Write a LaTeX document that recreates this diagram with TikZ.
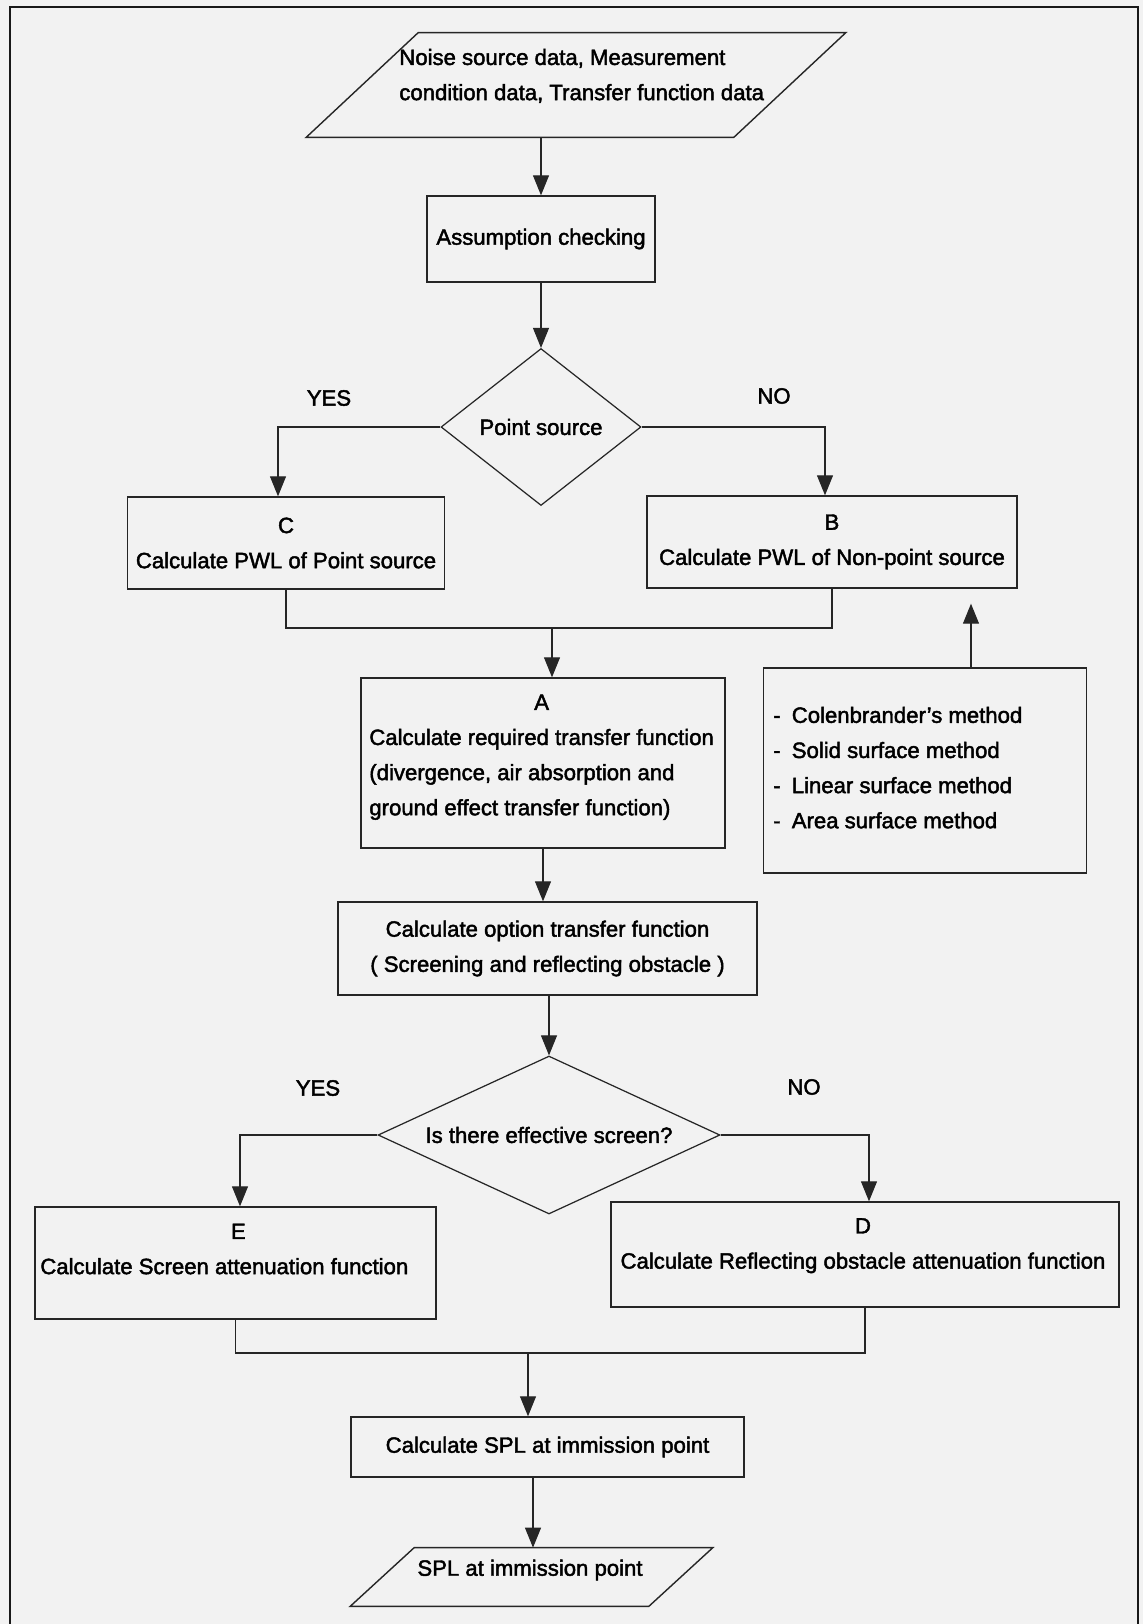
\documentclass[tikz,border=0pt]{standalone}
\usepackage{fontspec}
\setmainfont[FakeBold=2]{Liberation Sans}
\usetikzlibrary{arrows.meta,shapes.geometric,calc}

\begin{document}
\begin{tikzpicture}[x=0.02cm,y=-0.02cm,
  every node/.style={font=\fontsize{12.6}{20}\selectfont, inner sep=0pt},
  box/.style={draw=black!85, line width=0.8pt, rectangle},
  choice/.style={draw=black!85, line width=0.7pt, diamond},
  conn/.style={draw=black!85, line width=0.6pt},
  flow/.style={conn, -{Triangle[length=0.4cm,width=0.32cm]}},
]
% page and frame
\fill[black!5] (0,0) rectangle (1143,1624);
\useasboundingbox (0,0) rectangle (1143,1624);
\draw[black!90, line width=1.5pt] (10,1624) -- (10,7) -- (1138,7) -- (1138,1624);

% input data
\node[minimum width=8.54cm, minimum height=2.08cm] (in) at (576,85) {};
\draw[conn, line width=0.8pt] ([xshift=1.12cm]in.north west) -- ([xshift=1.12cm]in.north east)
  -- ([xshift=-1.12cm]in.south east) -- ([xshift=-1.12cm]in.south west) -- cycle;
\node[anchor=west] (intext) at (399,75.5) {\begin{tabular}{@{}l@{}}Noise source data, Measurement\\condition data, Transfer function data\end{tabular}};

% checks and first decision
\node[box, minimum width=4.56cm, minimum height=1.72cm] (chk) at (541,239) {Assumption checking};
\node[choice, aspect=1.27, minimum width=4cm, minimum height=3.14cm] (ps) at (541,427) {Point source};
\node (y1) at (329,398) {YES};
\node (n1) at (774,396) {NO};

\node[box, minimum width=6.34cm, minimum height=1.84cm, align=center] (C) at (286,543) {C\\Calculate PWL of Point source};
\node[box, minimum width=7.4cm, minimum height=1.84cm, align=center] (B) at (832,542) {B\\Calculate PWL of Non-point source};

% transfer functions
\node[box, minimum width=7.28cm, minimum height=3.4cm] (A) at (543,763) {};
\node[anchor=west] (Atext) at (369,755.5) {\begin{tabular}{@{}l@{}}\multicolumn{1}{@{}c@{}}{A}\\Calculate required transfer function\\(divergence, air absorption and\\ground effect transfer function)\end{tabular}};

\node[box, minimum width=6.47cm, minimum height=4.1cm] (meth) at (925,770.5) {};
\node[anchor=west] (methtext) at (773,768.5) {\begin{tabular}{@{}l@{}}-\enspace Colenbrander's method\\-\enspace Solid surface method\\-\enspace Linear surface method\\-\enspace Area surface method\end{tabular}};

\node[box, minimum width=8.38cm, minimum height=1.86cm, align=center] (opt) at (547.5,948.5) {Calculate option transfer function\\( Screening and reflecting obstacle )};

% second decision
\node[choice, aspect=2.16, minimum width=6.84cm, minimum height=3.16cm] (ies) at (549,1135) {Is there effective screen?};
\node (y2) at (318,1088) {YES};
\node (n2) at (804,1087) {NO};

\node[box, minimum width=8.02cm, minimum height=2.24cm] (E) at (235.5,1263) {};
\node[anchor=west] (Etext) at (40,1249.5) {\begin{tabular}{@{}l@{}}\multicolumn{1}{@{}c@{}}{\hspace{0.56cm}E}\\Calculate Screen attenuation function\end{tabular}};

\node[box, minimum width=10.16cm, minimum height=2.1cm] (D) at (865,1254.5) {};
\node (Dtext) at (863,1244) {\begin{tabular}{@{}c@{}}D\\Calculate Reflecting obstacle attenuation function\end{tabular}};

% result
\node[box, minimum width=7.86cm, minimum height=1.2cm] (calc) at (547.5,1447) {Calculate SPL at immission point};
\node[minimum width=5.96cm, minimum height=1.16cm] (out) at (531.5,1577) {};
\draw[conn, line width=0.8pt] ([xshift=0.64cm]out.north west) -- ([xshift=0.64cm]out.north east)
  -- ([xshift=-0.64cm]out.south east) -- ([xshift=-0.64cm]out.south west) -- cycle;
\node (outtext) at (530,1570) {SPL at immission point};

% connectors
\draw[flow] (in.south -| chk.north) -- (chk.north);
\draw[flow] (chk.south) -- (ps.north);
\draw[flow] (ps.west) -| ([xshift=-0.16cm]C.north);
\draw[flow] (ps.east) -| ([xshift=-0.14cm]B.north);
\coordinate (j1) at (552,628);
\draw[conn] (C.south) |- (j1) -| (B.south);
\draw[flow] (j1) -- (j1 |- A.north);
\draw[flow, shorten >=0.3cm] ([xshift=0.92cm]meth.north) -- ([xshift=0.92cm]meth.north |- B.south);
\draw[flow] (A.south) -- (A.south |- opt.north);
\draw[flow] (opt.south -| ies.north) -- (ies.north);
\draw[flow] (ies.west) -| ([xshift=0.09cm]E.north);
\draw[flow] (ies.east) -| ([xshift=0.08cm]D.north);
\coordinate (j2) at (528,1353);
\draw[conn] (E.south) |- (j2) -| (D.south);
\draw[flow] (j2) -- (j2 |- calc.north);
\draw[flow] ([xshift=-0.29cm]calc.south) -- ([xshift=-0.29cm]calc.south |- out.north);
\end{tikzpicture}
\end{document}
